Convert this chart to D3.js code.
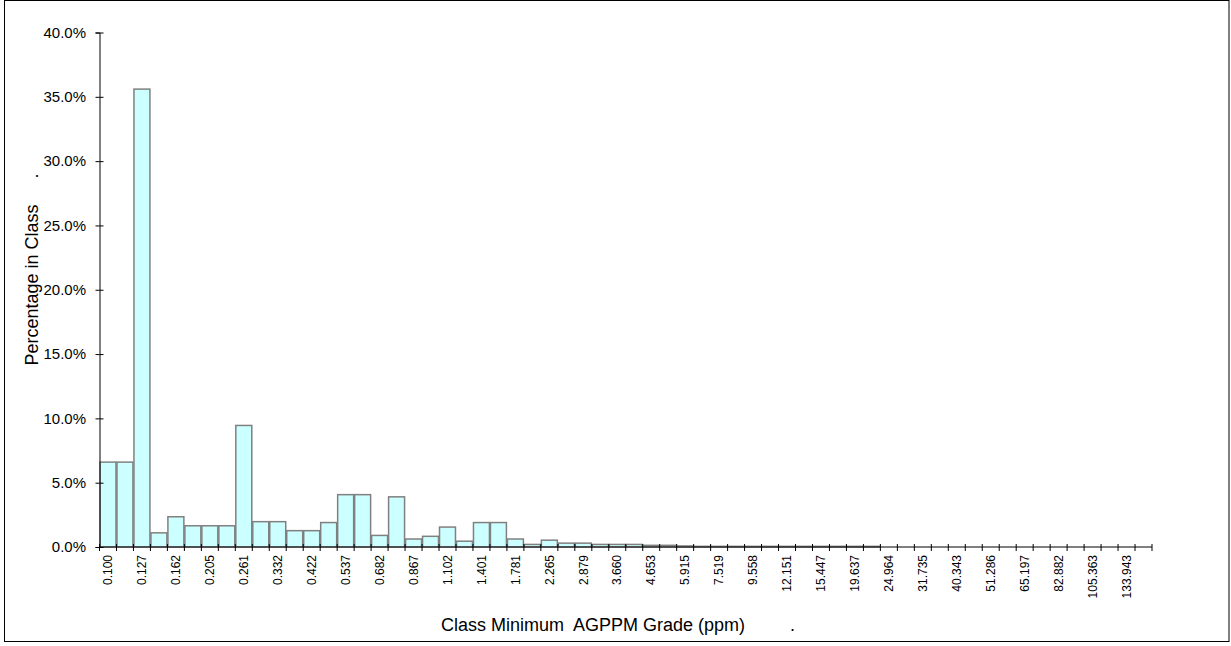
<!DOCTYPE html>
<html><head><meta charset="utf-8">
<script src="https://cdn.jsdelivr.net/npm/d3@7"></script>
<style>
html,body{margin:0;padding:0;background:#fff;}
svg text{font-family:Arial,"Liberation Sans",sans-serif;fill:#000;}
</style></head>
<body><svg id="chart" width="1231" height="646"></svg>
<script>
const categories = ["0.100","0.113","0.127","0.143","0.162","0.182","0.205","0.232","0.261","0.294",
"0.332","0.374","0.422","0.476","0.537","0.605","0.682","0.769","0.867","0.978",
"1.102","1.243","1.401","1.580","1.781","2.009","2.265","2.553","2.879","3.246",
"3.660","4.126","4.653","5.246","5.915","6.669","7.519","8.477","9.558","10.777",
"12.151","13.700","15.447","17.416","19.637","22.141","24.964","28.146","31.735","35.781",
"40.343","45.486","51.286","57.825","65.197","73.510","82.882","93.450","105.363","118.800",
"133.943","151.020"];
const percentages = [6.6,6.6,35.6,1.1,2.35,1.65,1.65,1.65,9.45,1.97,
1.97,1.27,1.27,1.9,4.07,4.07,0.9,3.9,0.62,0.83,
1.55,0.45,1.9,1.9,0.62,0.2,0.53,0.3,0.3,0.2,
0.2,0.2,0.13,0.13,0.08,0.05,0.05,0.05,0.05,0.05,
0.05,0.05,0.05,0.05,0.05,0.05,0,0,0,0,
0,0,0,0,0,0,0,0,0,0,
0,0];
const yTicks = [0,5,10,15,20,25,30,35,40];
const xTitle = "Class Minimum  AGPPM Grade (ppm)";
const yTitle = "Percentage in Class";

const svg = d3.select("#chart");
// outer frame
svg.append("rect").attr("x",4.5).attr("y",0.5).attr("width",1224.5).attr("height",641)
  .attr("fill","none").attr("stroke","#000").attr("stroke-width",1);

const x0 = 99.5, x1 = 1152, yBase = 547, yTop = 32.5;
const x = d3.scaleBand().domain(categories).range([x0,x1]).padding(0);
const y = d3.scaleLinear().domain([0,40]).range([yBase,yTop]);

// bars
svg.append("g").selectAll("rect").data(categories).join("rect")
  .attr("x",(d)=>x(d)+0.5)
  .attr("y",(d,i)=>y(percentages[i]))
  .attr("width",x.bandwidth()-1)
  .attr("height",(d,i)=>yBase-y(percentages[i]))
  .attr("fill","#CCFFFF")
  .attr("stroke","#808080")
  .attr("stroke-width",1.5);

// y axis
const ya = svg.append("g").attr("transform",`translate(${x0},0)`)
  .call(d3.axisLeft(y).tickValues(yTicks).tickSize(4).tickPadding(9.5).tickFormat(d=>d.toFixed(1)+"%"));
ya.select(".domain").attr("stroke","#000");
ya.selectAll(".tick line").attr("stroke","#000");
ya.selectAll(".tick").append("line").attr("x1",0).attr("x2",4).attr("stroke","#000");
ya.selectAll(".tick text").style("font-size","15px");

// x axis: boundary ticks
const bounds = categories.map(c=>x(c)).concat([x1]);
svg.append("line").attr("x1",x0).attr("x2",x1).attr("y1",yBase).attr("y2",yBase).attr("stroke","#000");
svg.append("g").selectAll("line").data(bounds).join("line")
  .attr("x1",d=>d).attr("x2",d=>d).attr("y1",yBase-3).attr("y2",yBase+4)
  .attr("stroke","#000");
// labels every other category
const xa = svg.append("g").attr("transform",`translate(0,${yBase})`)
  .call(d3.axisBottom(x).tickValues(categories.filter((c,i)=>i%2===0)).tickSize(0));
xa.select(".domain").remove();
xa.selectAll(".tick text")
  .attr("transform","translate(0,8) rotate(-90)")
  .attr("x",0).attr("y",0).attr("dy","0.35em")
  .attr("text-anchor","end")
  .style("font-size","12px");

// titles
svg.append("text").attr("x",593).attr("y",631).attr("text-anchor","middle")
  .style("font-size","18px").attr("xml:space","preserve").text(xTitle);
svg.append("text").attr("x",790).attr("y",631).style("font-size","18px").text(".");
svg.append("text").attr("transform","translate(38,285) rotate(-90)").attr("text-anchor","middle")
  .style("font-size","18px").text(yTitle);
svg.append("text").attr("transform","translate(38,176) rotate(-90)").attr("text-anchor","middle")
  .style("font-size","18px").text(".");
</script></body></html>
